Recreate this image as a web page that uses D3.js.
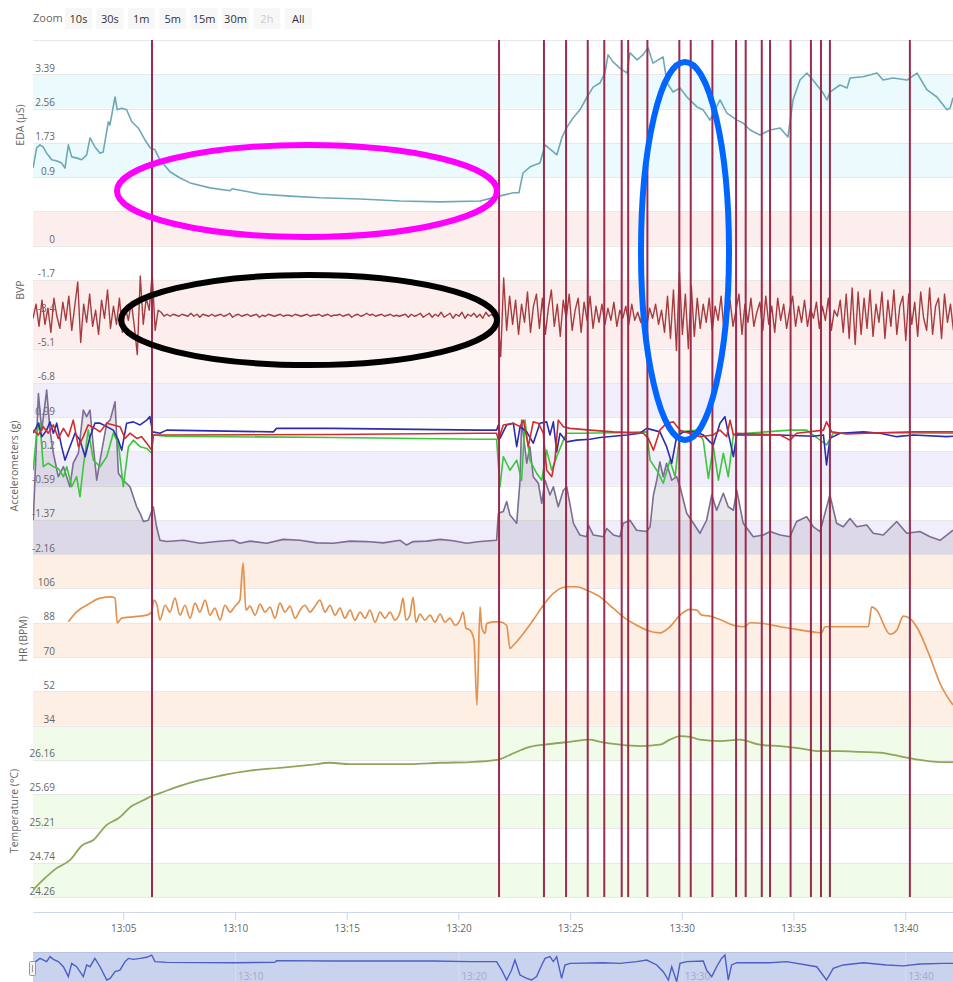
<!DOCTYPE html>
<html>
<head>
<meta charset="utf-8">
<script src="https://cdn.jsdelivr.net/npm/d3@7"></script>
<style>
body { margin: 0; background: #fff; }
text { font-family: "Open Sans", sans-serif; }
</style>
</head>
<body>
<svg id="chart" width="953" height="982"></svg>
<script>
// time values are minutes after 13:00

const zoomButtons = ["10s", "30s", "1m", "5m", "15m", "30m", "2h", "All"];

const edaTicks = [3.39, 2.56, 1.73, 0.9];
const bvpTicks = [0, -1.7, -3.4, -5.1, -6.8];
const accTicks = [0.99, 0.2, -0.59, -1.37, -2.16];
const hrTicks = [106, 88, 70, 52, 34];
const tempTicks = [26.16, 25.69, 25.21, 24.74, 24.26];

// event markers (red vertical lines)
const events = [6.285, 21.82, 23.83, 24.82, 25.79, 26.53, 27.31, 27.60, 28.46, 29.89, 30.40,
  31.37, 32.43, 32.86, 33.58, 33.95, 34.87, 35.78, 36.23, 36.63, 40.21];

const eda = [[0.96,1.12],[1.12,1.61],[1.27,1.68],[1.41,1.63],[1.57,1.48],[1.80,1.32],[2.03,1.29],[2.24,1.24],
  [2.39,1.12],[2.54,1.68],[2.69,1.39],[2.93,1.36],[3.14,1.32],[3.36,1.44],[3.51,1.85],[3.73,1.63],[3.96,1.48],
  [4.10,1.51],[4.33,2.24],[4.40,2.16],[4.63,2.84],[4.73,2.53],[4.93,2.57],[5.15,2.53],[5.38,2.24],[5.67,2.09],
  [5.97,1.80],[6.20,1.61],[6.42,1.56],[6.64,1.32],[7.09,1.03],[7.54,0.88],[7.99,0.76],[8.88,0.64],[9.78,0.57],
  [9.87,0.62],[11.12,0.49],[12.46,0.44],[13.80,0.40],[15.60,0.37],[17.39,0.32],[19.18,0.30],[20.97,0.32],
  [21.82,0.44],[22.46,0.52],[22.71,0.52],[22.89,1.00],[23.21,1.15],[23.65,1.24],[23.88,1.68],[24.41,1.44],
  [24.64,1.87],[24.86,2.11],[25.13,2.33],[25.44,2.53],[25.76,2.84],[26.03,3.08],[26.34,3.18],[26.56,3.42],
  [26.70,3.86],[26.92,3.69],[27.23,3.54],[27.55,3.42],[27.68,3.91],[28.00,3.74],[28.26,3.86],[28.49,4.03],
  [28.71,3.66],[29.16,3.81],[29.34,3.18],[29.61,2.96],[29.92,3.06],[30.23,2.84],[30.68,2.60],[30.95,2.53],
  [31.26,2.28],[31.71,2.77],[32.02,2.45],[32.47,2.28],[32.74,2.21],[33.06,2.04],[33.50,1.92],[33.95,2.04],
  [34.40,2.09],[34.75,1.87],[34.98,2.77],[35.29,3.25],[35.60,3.42],[35.87,3.25],[36.32,2.94],[36.50,2.77],
  [36.63,2.96],[37.08,3.13],[37.40,3.06],[37.53,3.30],[38.11,3.33],[38.74,3.42],[39.01,3.25],[39.45,3.30],
  [40.08,3.25],[40.53,3.42],[40.98,3.01],[41.42,2.84],[41.87,2.53],[42.01,2.57],[42.14,2.82]];

// BVP sampled every 8 s from 13:00:57
const bvpStart = 0.96, bvpStep = 8 / 60;
const bvp = [-3.6,-2.9,-4.0,-2.7,-3.9,-3.1,-4.3,-2.6,-3.5,-4.1,
  -2.8,-3.7,-2.5,-4.2,-3.0,-1.8,-4.8,-2.9,-3.8,-2.4,
  -4.0,-3.2,-4.4,-2.7,-3.6,-2.2,-4.1,-3.0,-3.9,-2.6,
  -4.3,-3.1,-3.7,-2.8,-4.0,-5.4,-1.5,-3.9,-2.6,-3.2,
  -1.4,-4.2,-3.2,
  -3.3,-3.5,-3.4,-3.5,-3.4,-3.45,-3.5,-3.4,-3.45,-3.5,
  -3.35,-3.5,-3.4,-3.55,-3.4,-3.45,-3.5,-3.4,-3.5,-3.45,
  -3.4,-3.5,-3.45,-3.35,-3.55,-3.45,-3.4,-3.5,-3.45,-3.4,
  -3.5,-3.45,-3.4,-3.55,-3.45,-3.5,-3.4,-3.45,-3.5,-3.45,
  -3.4,-3.5,-3.45,-3.45,-3.5,-3.4,-3.45,-3.5,-3.45,-3.4,
  -3.5,-3.45,-3.45,-3.4,-3.5,-3.45,-3.4,-3.5,-3.45,-3.45,
  -3.4,-3.5,-3.45,-3.4,-3.55,-3.45,-3.4,-3.5,-3.45,-3.35,
  -3.45,-3.4,-3.5,-3.45,-3.4,-3.5,-3.45,-3.4,-3.5,-3.45,
  -3.5,-3.45,-3.4,-3.55,-3.4,-3.5,-3.45,-3.35,-3.55,-3.45,
  -3.35,-3.55,-3.4,-3.5,-3.3,-3.55,-3.45,-3.35,-3.6,-3.4,
  -3.5,-3.3,-3.6,-3.4,-3.5,-3.35,-3.55,-3.4,-3.6,-3.3,
  -3.5,-3.4,-3.6,-3.35,
  -5.5,-1.6,-4.2,-2.5,-3.9,-2.7,-4.4,-2.9,-3.8,-2.3,
  -4.3,-3.0,-2.4,-4.1,-2.6,-4.4,-3.1,-2.2,-4.0,-2.9,
  -4.5,-2.7,-3.6,-2.4,-4.2,-3.2,-2.6,-4.3,-2.8,-3.7,
  -2.5,-4.1,-3.0,-3.8,-2.9,-3.9,-3.1,-3.7,-2.8,-4.0,
  -3.2,-3.6,-3.0,-3.9,-2.9,-3.7,-3.3,-3.8,-2.8,-4.0,
  -3.1,-3.6,-2.9,-3.9,-3.2,-4.3,-2.5,-4.6,-2.2,-5.2,
  -1.3,-4.4,-2.4,-5.1,-2.0,-4.5,-2.6,-4.1,-2.9,-3.8,
  -2.6,-4.2,-3.0,-3.7,-2.5,-4.3,-3.1,-2.7,-4.0,-3.2,
  -2.4,-4.4,-2.9,-3.8,-2.6,-4.0,-3.3,-2.8,-4.2,-2.5,
  -3.9,-3.0,-4.3,-2.6,-3.7,-2.9,-4.1,-3.2,-2.5,-4.0,
  -3.0,-3.8,-2.7,-4.0,-3.1,-3.6,-2.8,-4.1,-3.0,-3.7,
  -2.6,-4.2,-3.2,-3.5,-2.7,-4.3,-2.4,-4.6,-2.1,-4.9,
  -2.3,-4.4,-2.6,-4.1,-2.2,-4.5,-2.9,-3.8,-2.3,-4.6,
  -2.7,-4.0,-2.2,-4.4,-3.0,-2.5,-4.7,-2.4,-3.9,-2.8,
  -4.5,-2.3,-3.6,-4.2,-2.1,-4.4,-3.0,-2.6,-4.6,-2.4,
  -3.8,-2.9,-4.2];

const accRed = [[0.97,0.69],[1.20,0.58],[1.42,0.77],[1.64,0.62],[1.87,0.81],[2.09,0.50],[2.32,0.73],[2.54,0.54],
  [2.76,0.92],[2.99,0.31],[3.21,0.54],[3.43,0.81],[3.73,0.73],[3.96,0.65],[4.26,0.85],[4.55,0.81],[4.85,0.77],
  [5.08,0.50],[5.30,0.62],[5.60,0.50],[5.82,0.54],[6.05,0.39],[6.27,0.23],[6.34,0.58],[6.94,0.58],[14.40,0.59],
  [20.97,0.62],[21.71,0.62],[21.79,0.46],[22.01,0.81],[22.46,0.85],[22.76,0.77],[22.91,0.92],[23.13,0.31],
  [23.35,0.88],[23.58,0.85],[23.80,0.62],[23.95,-0.23],[24.18,-0.38],[24.32,0.00],[24.47,0.92],[24.70,0.77],
  [25.00,0.73],[25.89,0.69],[26.94,0.65],[28.28,0.62],[28.50,0.50],[28.73,0.23],[29.02,0.69],[29.32,0.85],
  [29.62,0.88],[29.92,0.69],[30.81,0.54],[31.41,0.58],[31.71,0.69],[32.01,0.54],[32.16,0.92],[32.31,0.58],
  [32.46,0.62],[34.40,0.58],[34.84,0.46],[35.14,0.62],[36.34,0.69],[36.48,0.88],[36.71,0.65],[37.38,0.60],
  [38.87,0.63],[40.36,0.65],[42.14,0.65]];

const accGreen = [[0.97,-0.23],[1.12,0.62],[1.27,0.85],[1.42,-0.15],[1.64,-0.07],[1.87,-0.15],[2.09,-0.19],
  [2.32,-0.38],[2.47,-0.15],[2.69,-0.61],[2.91,-0.38],[3.06,-0.84],[3.21,-0.15],[3.43,0.69],[3.66,0.00],
  [3.96,-0.15],[4.26,0.08],[4.55,0.62],[4.78,0.39],[5.00,-0.61],[5.23,0.31],[5.45,0.46],[5.75,0.31],[6.05,0.27],
  [6.27,0.16],[6.34,0.58],[6.94,0.55],[14.40,0.52],[20.97,0.48],[21.71,0.48],[21.86,-0.61],[22.01,0.08],
  [22.31,-0.23],[22.61,0.00],[22.83,-0.46],[22.98,0.92],[23.20,0.00],[23.50,-0.30],[23.73,-0.46],[23.95,0.23],
  [24.18,-0.23],[24.40,0.08],[24.70,0.46],[24.85,0.62],[25.44,0.62],[26.94,0.63],[28.43,0.65],[28.58,0.00],
  [28.88,-0.23],[29.17,-0.53],[29.47,0.00],[29.70,-0.38],[29.92,0.65],[30.67,0.69],[30.96,0.46],[31.19,-0.42],
  [31.41,0.31],[31.64,-0.46],[31.86,0.16],[32.08,-0.38],[32.31,0.58],[32.90,0.62],[34.84,0.69],[35.59,0.69],
  [36.48,0.35],[36.78,0.62],[38.87,0.63],[42.14,0.62]];

const accBlue = [[0.97,0.62],[1.20,0.85],[1.35,0.54],[1.57,0.69],[1.72,0.88],[1.87,0.62],[2.02,0.85],[2.24,0.31],
  [2.39,0.00],[2.61,0.31],[2.84,0.62],[3.06,0.46],[3.29,0.08],[3.51,0.54],[3.73,0.85],[3.96,0.85],[4.26,0.77],
  [4.55,0.69],[4.78,0.46],[4.93,0.23],[5.15,0.85],[5.45,0.88],[5.75,0.81],[6.05,0.92],[6.19,1.00],[6.31,0.65],
  [6.64,0.62],[6.94,0.69],[11.72,0.65],[11.86,0.73],[14.40,0.73],[20.97,0.69],[21.71,0.69],[21.79,0.81],
  [21.86,0.50],[22.16,0.81],[22.46,0.85],[22.61,0.31],[22.76,0.77],[23.06,0.65],[23.35,0.39],[23.65,0.85],
  [23.95,0.88],[24.10,0.58],[24.25,0.88],[24.40,0.19],[24.55,0.62],[24.85,0.42],[25.29,0.46],[25.89,0.48],
  [26.34,0.52],[26.94,0.55],[27.53,0.58],[28.13,0.62],[28.43,0.73],[28.73,0.69],[29.02,0.65],[29.32,0.31],
  [29.55,-0.07],[29.77,0.54],[30.07,0.65],[30.67,0.65],[30.96,0.58],[31.26,0.42],[31.41,0.35],[31.71,0.85],
  [31.93,1.00],[32.08,0.62],[32.31,0.08],[32.46,0.58],[32.90,0.58],[34.40,0.58],[35.89,0.55],[36.34,0.58],
  [36.48,-0.11],[36.63,0.50],[37.08,0.62],[38.13,0.65],[38.87,0.62],[39.62,0.54],[40.36,0.58],[41.86,0.54],
  [42.14,0.55]];

const accPurple = [[0.97,-1.38],[1.20,1.53],[1.35,0.69],[1.57,1.61],[1.72,0.69],[1.87,0.16],[2.09,-0.38],
  [2.32,-0.15],[2.61,-0.61],[2.76,-0.07],[2.99,0.16],[3.21,1.15],[3.36,1.00],[3.51,1.15],[3.66,0.31],[3.81,-0.46],
  [3.96,0.00],[4.26,0.85],[4.41,0.92],[4.63,1.34],[4.78,-0.30],[5.00,-0.46],[5.30,-0.61],[5.60,-1.07],
  [5.75,-1.22],[5.90,-1.41],[6.12,-1.38],[6.34,-1.07],[6.49,-1.53],[6.64,-1.84],[6.94,-1.87],[7.69,-1.84],
  [8.43,-1.91],[9.18,-1.87],[9.93,-1.84],[10.22,-1.91],[10.67,-1.86],[11.42,-1.91],[12.16,-1.82],[12.91,-1.84],
  [13.66,-1.90],[14.40,-1.91],[15.15,-1.86],[15.89,-1.87],[16.64,-1.90],[17.39,-1.84],[17.68,-1.95],[17.98,-1.87],
  [18.58,-1.86],[19.18,-1.82],[19.77,-1.85],[20.37,-1.91],[20.97,-1.87],[21.71,-1.84],[21.79,-1.22],[22.01,-1.18],
  [22.16,-0.95],[22.31,-1.26],[22.61,-1.45],[22.76,-0.46],[22.83,0.92],[23.06,-0.07],[23.20,0.31],[23.35,-0.38],
  [23.58,-0.53],[23.73,-0.99],[23.88,-0.46],[24.10,-0.80],[24.25,-0.61],[24.47,-1.07],[24.70,-0.69],[24.85,-0.61],
  [25.15,-1.45],[25.44,-1.72],[25.74,-1.76],[25.82,-1.49],[26.04,-1.72],[26.49,-1.76],[26.64,-1.57],[26.94,-1.72],
  [27.23,-1.76],[27.38,-1.45],[27.68,-1.38],[27.98,-1.61],[28.43,-1.64],[28.58,-1.53],[28.73,-0.80],[28.88,-0.46],
  [29.02,-0.04],[29.17,-0.38],[29.32,-0.07],[29.55,-0.46],[29.77,-0.38],[29.92,-0.61],[30.22,-1.22],[30.52,-1.45],
  [30.81,-1.68],[31.11,-1.38],[31.34,-0.80],[31.56,-1.15],[31.86,-0.76],[32.08,-1.07],[32.31,-1.15],[32.46,-0.69],
  [32.75,-1.45],[33.20,-1.76],[33.65,-1.72],[33.95,-1.64],[34.40,-1.72],[34.84,-1.76],[35.14,-1.41],[35.59,-1.30],
  [35.89,-1.53],[36.19,-1.64],[36.63,-0.80],[36.93,-1.45],[37.23,-1.53],[37.53,-1.34],[37.83,-1.53],[38.28,-1.49],
  [38.57,-1.68],[39.02,-1.72],[39.62,-1.41],[40.07,-1.68],[40.66,-1.64],[41.11,-1.76],[41.56,-1.84],[41.86,-1.72],
  [42.14,-1.61]];

const hr = [[2.54,88.5],[2.91,93.7],[3.51,98.3],[3.96,100.9],[4.48,101.6],[4.63,100.9],[4.73,87.9],[4.93,90.4],
  [5.43,91.1],[6.05,92.0],[6.27,93.7],[6.37,99.9],[6.51,97.2],[6.64,89.4],[6.87,97.2],[7.09,93.6],[7.31,100.9],
  [7.54,92.0],[7.76,97.2],[7.99,90.4],[8.21,98.3],[8.43,93.6],[8.66,99.9],[8.88,92.0],[9.10,95.7],[9.33,89.4],
  [9.55,97.2],[9.78,93.6],[10.00,96.7],[10.22,99.9],[10.36,119.3],[10.49,94.6],[10.67,96.7],[10.90,92.0],
  [11.12,97.8],[11.34,93.6],[11.57,96.2],[11.79,90.4],[12.01,98.3],[12.24,93.6],[12.46,96.7],[12.69,90.4],
  [12.91,94.6],[13.13,97.2],[13.36,93.6],[13.58,96.7],[13.80,99.9],[14.03,93.6],[14.25,97.2],[14.48,92.0],
  [14.70,95.7],[14.92,90.4],[15.15,94.6],[15.37,89.4],[15.60,93.6],[15.82,90.4],[16.04,94.6],[16.27,88.3],
  [16.49,93.6],[16.71,90.4],[16.94,93.6],[17.16,89.4],[17.39,93.6],[17.52,100.9],[17.65,89.4],[17.83,92.0],
  [17.97,101.4],[18.10,88.3],[18.28,92.5],[18.50,89.4],[18.73,92.0],[18.95,88.3],[19.18,92.5],[19.40,88.3],
  [19.62,90.4],[19.85,86.7],[20.07,89.4],[20.21,93.6],[20.34,85.2],[20.52,84.1],[20.70,78.9],[20.83,44.8],
  [20.97,96.3],[21.04,85.9],[21.19,82.4],[21.27,87.6],[21.56,88.5],[21.86,88.5],[22.16,86.7],[22.31,74.5],
  [22.46,76.2],[22.91,82.4],[23.35,89.4],[23.80,97.2],[24.25,103.4],[24.85,106.9],[25.29,106.9],[25.74,105.1],
  [26.34,101.6],[26.94,95.5],[27.38,91.1],[27.98,86.7],[28.43,84.1],[29.02,82.7],[29.47,85.9],[29.92,92.0],
  [30.37,95.0],[30.67,94.6],[30.89,92.0],[31.26,91.5],[31.71,89.7],[32.31,86.7],[32.75,85.9],[32.90,86.7],
  [33.05,88.0],[33.65,87.6],[34.40,85.9],[35.14,84.5],[35.89,83.2],[36.26,82.7],[36.41,85.9],[37.38,85.9],
  [38.35,85.9],[38.50,96.3],[38.72,94.6],[39.32,82.0],[39.62,84.1],[39.92,91.5],[40.22,90.2],[40.51,85.9],
  [41.11,70.1],[41.56,56.1],[42.14,44.8]];

const temp = [[0.97,24.36],[1.42,24.50],[2.02,24.66],[2.61,24.77],[3.14,24.97],[3.66,25.05],[4.26,25.26],
  [4.78,25.35],[5.38,25.52],[5.90,25.60],[6.27,25.66],[6.64,25.70],[7.54,25.80],[8.43,25.88],[9.33,25.94],
  [10.67,26.01],[12.01,26.05],[13.36,26.09],[14.25,26.12],[15.15,26.10],[16.49,26.10],[17.83,26.10],
  [19.18,26.12],[20.52,26.13],[21.73,26.16],[21.86,26.17],[22.31,26.23],[23.20,26.34],[24.10,26.38],
  [24.99,26.41],[25.89,26.44],[26.34,26.41],[27.23,26.37],[28.13,26.35],[29.02,26.37],[29.47,26.44],
  [29.92,26.49],[30.37,26.48],[30.81,26.44],[31.71,26.42],[32.60,26.44],[33.50,26.37],[34.40,26.35],
  [35.29,26.32],[36.19,26.28],[37.08,26.28],[37.98,26.27],[38.87,26.26],[39.77,26.21],[40.66,26.16],
  [41.56,26.13],[42.14,26.13]];

const nav = [[0.97,0.29],[1.27,0.60],[1.57,0.40],[1.72,0.71],[1.87,0.54],[2.09,0.40],[2.32,0.08],[2.54,-0.54],
  [2.69,0.29],[2.91,0.08],[3.21,-0.54],[3.36,0.19],[3.51,0.08],[3.73,0.60],[3.96,0.08],[4.26,-0.75],[4.41,-0.65],
  [4.63,-0.23],[4.85,-0.13],[5.08,0.40],[5.23,0.60],[5.45,0.54],[5.75,0.60],[6.05,0.67],[6.27,0.81],[6.42,0.40],
  [6.94,0.35],[9.93,0.33],[11.79,0.35],[11.86,0.46],[14.40,0.44],[18.88,0.44],[20.52,0.40],[21.71,0.40],
  [21.94,-0.13],[22.16,-0.75],[22.38,-0.13],[22.53,0.50],[22.76,-0.44],[23.06,-0.65],[23.28,-0.75],[23.50,-0.54],
  [23.73,0.19],[23.88,0.60],[24.10,0.71],[24.25,0.40],[24.40,0.71],[24.62,-0.65],[24.77,0.19],[24.99,0.29],
  [26.49,0.33],[27.23,0.29],[27.98,0.40],[28.43,0.50],[28.88,0.19],[29.17,-0.23],[29.40,-0.75],[29.55,0.08],
  [29.77,-0.85],[29.92,0.29],[30.22,0.40],[30.96,0.44],[31.11,-0.13],[31.34,-0.54],[31.56,0.08],[31.78,0.60],
  [31.93,0.81],[32.08,-0.75],[32.23,0.19],[32.46,0.33],[33.95,0.33],[34.69,0.40],[36.04,0.08],[36.48,-0.75],
  [36.78,-0.02],[37.23,0.19],[38.13,0.33],[39.17,0.19],[39.92,0.13],[40.66,0.25],[41.69,0.29],[42.14,0.29]];

// ---------------------------------------------------------------
const svg = d3.select("#chart");
const plotL = 33, plotR = 953;
const base = Date.UTC(2017, 0, 1, 13, 0, 0);
const toDate = m => new Date(base + m * 60000);

const x = d3.scaleUtc().domain([toDate(0.958), toDate(42.14)]).range([plotL, plotR]);
const row = d3.scaleLinear().domain([0, 25]).range([40, 897]);

const yEda = d3.scaleLinear().domain([0.9, 3.39]).range([row(4), row(1)]);
const yBvp = d3.scaleLinear().domain([0, -6.8]).range([row(6), row(10)]);
const yAcc = d3.scaleLinear().domain([-2.16, 0.99]).range([row(15), row(11)]);
const yHr = d3.scaleLinear().domain([34, 106]).range([row(20), row(16)]);
const yTemp = d3.scaleLinear().domain([24.26, 26.16]).range([row(25), row(21)]);
const yNav = d3.scaleLinear().domain([-1, 1]).range([984, 952]);

svg.append("defs").append("clipPath").attr("id", "plot")
  .append("rect").attr("x", plotL).attr("y", 0).attr("width", plotR - plotL).attr("height", 982);

// plot bands
const bands = [
  [1, 2, "#ebfafc"], [3, 4, "#ebfafc"], [5, 6, "#fdeeee"],
  [7, 9, "#fdeeee"], [9, 10, "#fdf4f4"],
  [10, 11, "#f1eefb"], [12, 13, "#f1eefb"], [14, 15, "#f1eefb"],
  [15, 16, "#fdefe4"], [17, 18, "#fdefe4"], [19, 20, "#fdefe4"],
  [20, 21, "#f1fbea"], [22, 23, "#f1fbea"], [24, 25, "#f1fbea"]
];
svg.append("g").selectAll("rect").data(bands).join("rect")
  .attr("x", plotL).attr("width", plotR - plotL)
  .attr("y", d => row(d[0])).attr("height", d => row(d[1]) - row(d[0]))
  .attr("fill", d => d[2]);

svg.append("g").selectAll("line").data(d3.range(26)).join("line")
  .attr("x1", plotL).attr("x2", plotR)
  .attr("y1", d => Math.round(row(d)) + 0.5).attr("y2", d => Math.round(row(d)) + 0.5)
  .attr("stroke", "#e8e8e8");

// y axes: labels only
function yLabels(scale, ticks, fmt) {
  const g = svg.append("g").attr("transform", "translate(55,0)")
    .call(d3.axisLeft(scale).tickValues(ticks).tickSize(0).tickPadding(0).tickFormat(fmt));
  g.select(".domain").remove();
  g.selectAll("text").attr("dy", "-0.3em").attr("fill", "#666").style("font-size", "10px")
    .style("font-family", "Open Sans, sans-serif");
}
yLabels(yEda, edaTicks, d => String(d));
yLabels(yBvp, bvpTicks, d => String(d));
yLabels(yAcc, accTicks, d => String(d));
yLabels(yHr, hrTicks, d => String(d));
yLabels(yTemp, tempTicks, d => String(d));

const titles = [["EDA (µS)", 20, 125], ["BVP", 20, 290], ["Accelerometers (g)", 14, 466],
  ["HR (BPM)", 23, 639], ["Temperature (°C)", 14, 811]];
svg.append("g").selectAll("text").data(titles).join("text")
  .attr("transform", d => `translate(${d[1]},${d[2]}) rotate(-90)`)
  .attr("text-anchor", "middle").attr("dy", "0.35em")
  .attr("fill", "#666").style("font-size", "10.5px").text(d => d[0]);

// series
const plot = svg.append("g").attr("clip-path", "url(#plot)");
const tx = d => x(toDate(d[0]));
function drawLine(data, y, color, width, curve) {
  plot.append("path").datum(data)
    .attr("fill", "none").attr("stroke", color).attr("stroke-width", width)
    .attr("stroke-linejoin", "round")
    .attr("d", d3.line().x(tx).y(d => y(d[1])).curve(curve || d3.curveLinear));
}

drawLine(eda, yEda, "#6ea8b6", 1.6);

const bvpPts = bvp.map((v, i) => [bvpStart + i * bvpStep, v]);
drawLine(bvpPts, yBvp, "#a63c3e", 1.4);

plot.append("path").datum(accPurple)
  .attr("fill", "rgba(110,105,130,0.16)")
  .attr("d", d3.area().x(tx).y0(row(15)).y1(d => yAcc(d[1])));
drawLine(accPurple, yAcc, "#7d6c94", 1.6);
drawLine(accGreen, yAcc, "#3cc63c", 1.6);
drawLine(accBlue, yAcc, "#2c2cae", 1.6);
drawLine(accRed, yAcc, "#d42c2c", 1.6);

drawLine(hr, yHr, "#e2914f", 1.7, d3.curveMonotoneX);
drawLine(temp, yTemp, "#8ea55b", 1.8, d3.curveMonotoneX);

// event lines
plot.append("g").selectAll("line").data(events).join("line")
  .attr("x1", d => x(toDate(d))).attr("x2", d => x(toDate(d)))
  .attr("y1", row(0)).attr("y2", row(25))
  .attr("stroke", "#9c2a4c").attr("stroke-width", 2);

// x axis
const xAxis = svg.append("g").attr("transform", "translate(0,912)")
  .call(d3.axisBottom(x).ticks(d3.utcMinute.every(5)).tickFormat(d3.utcFormat("%H:%M"))
    .tickSize(8).tickPadding(5).tickSizeOuter(0));
xAxis.select(".domain").attr("stroke", "#ccd6eb");
xAxis.selectAll(".tick line").attr("stroke", "#ccd6eb");
xAxis.selectAll("text").attr("fill", "#666").style("font-size", "10px")
  .style("font-family", "Open Sans, sans-serif");

// navigator
svg.append("rect").attr("x", plotL).attr("y", 952).attr("width", plotR - plotL).attr("height", 30)
  .attr("fill", "#c9d3ee");
svg.append("line").attr("x1", plotL).attr("x2", plotR).attr("y1", 952.5).attr("y2", 952.5)
  .attr("stroke", "#b8c3e3");
const navTicks = x.ticks(d3.utcMinute.every(10));
svg.append("g").selectAll("line").data(navTicks).join("line")
  .attr("x1", d => x(d) + 0.5).attr("x2", d => x(d) + 0.5).attr("y1", 952).attr("y2", 982)
  .attr("stroke", "#d7ddf1");
svg.append("g").selectAll("text").data(navTicks).join("text")
  .attr("x", d => x(d) + 3).attr("y", 980).attr("fill", "#a3abc6")
  .style("font-size", "10px").text(d => d3.utcFormat("%H:%M")(d));
svg.append("g").attr("clip-path", "url(#plot)").append("path").datum(nav)
  .attr("fill", "none").attr("stroke", "#4d5ec6").attr("stroke-width", 1.4)
  .attr("d", d3.line().x(tx).y(d => yNav(d[1])));
svg.append("rect").attr("x", 29.5).attr("y", 961.5).attr("width", 6).attr("height", 14).attr("rx", 1)
  .attr("fill", "#f2f2f2").attr("stroke", "#999");
svg.append("line").attr("x1", 32.5).attr("x2", 32.5).attr("y1", 965).attr("y2", 972).attr("stroke", "#999");

// range selector
svg.append("text").attr("x", 33).attr("y", 22).attr("fill", "#666").style("font-size", "11px").text("Zoom");
const btn = svg.append("g").selectAll("g").data(zoomButtons).join("g")
  .attr("transform", (d, i) => `translate(${65 + i * 31.4},8)`);
btn.append("rect").attr("width", 27).attr("height", 21).attr("fill", "#f7f7f7");
btn.append("text").attr("x", 13.5).attr("y", 14.5).attr("text-anchor", "middle")
  .attr("fill", d => d === "2h" ? "#cccccc" : "#333")
  .style("font-size", "11px").text(d => d);

// annotations
const marks = [[307, 191, 190, 46, "#ff00ff"], [309, 320, 188, 45, "#000000"], [685, 251, 44, 189, "#0066ff"]];
svg.append("g").selectAll("ellipse").data(marks).join("ellipse")
  .attr("cx", d => d[0]).attr("cy", d => d[1]).attr("rx", d => d[2]).attr("ry", d => d[3])
  .attr("fill", "none").attr("stroke", d => d[4]).attr("stroke-width", 6);
</script>
</body>
</html>
